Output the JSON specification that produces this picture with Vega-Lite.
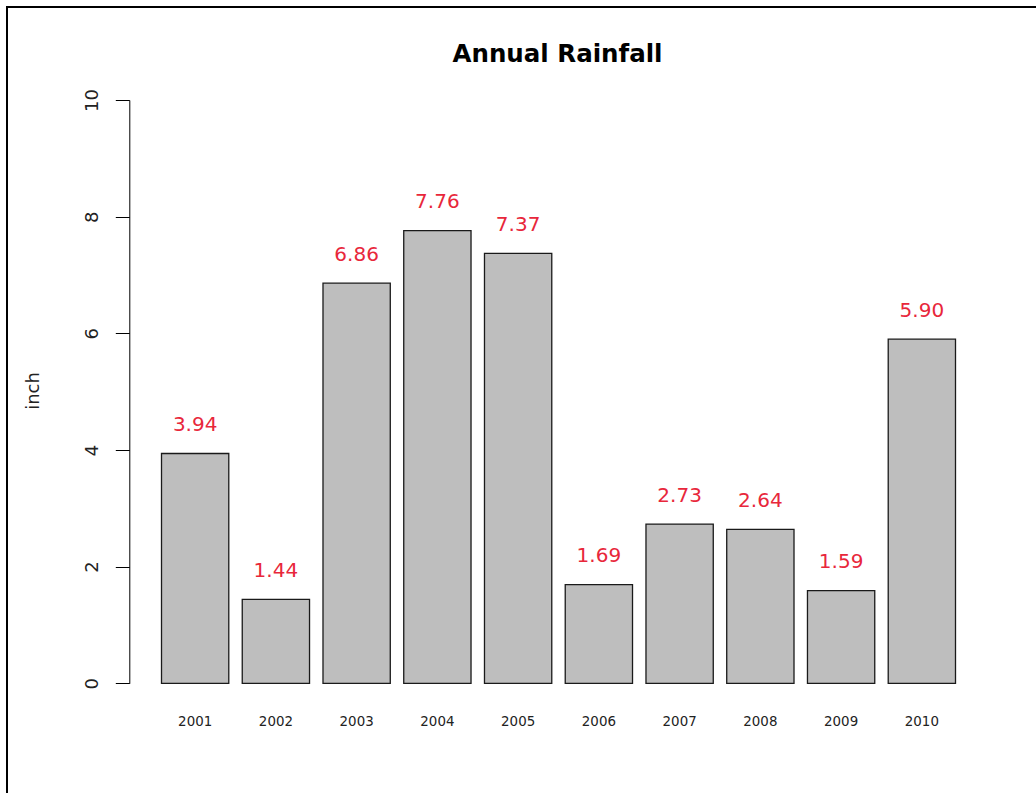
{
  "$schema": "https://vega.github.io/schema/vega-lite/v6.json",
  "autosize": {"type": "none"},
  "padding": {"left": 7, "top": 7, "right": 0, "bottom": 0},
  "width": 1033,
  "height": 790,
  "background": "white",
  "config": {
    "view": {"stroke": "black", "strokeWidth": 2, "fill": "white"},
    "font": "DejaVu Sans"
  },
  "title": {
    "text": "Annual Rainfall",
    "font": "DejaVu Sans",
    "fontSize": 24.5,
    "fontWeight": "bold",
    "color": "black",
    "anchor": "middle",
    "frame": "group",
    "baseline": "alphabetic",
    "offset": -79,
    "dx": 34
  },
  "data": {
    "values": [
      {"year": "2001", "rain": 3.94},
      {"year": "2002", "rain": 1.44},
      {"year": "2003", "rain": 6.86},
      {"year": "2004", "rain": 7.76},
      {"year": "2005", "rain": 7.37},
      {"year": "2006", "rain": 1.69},
      {"year": "2007", "rain": 2.73},
      {"year": "2008", "rain": 2.64},
      {"year": "2009", "rain": 1.59},
      {"year": "2010", "rain": 5.90}
    ]
  },
  "encoding": {
    "x": {
      "field": "year",
      "type": "ordinal",
      "sort": null,
      "scale": {"range": [154.5, 948.5], "paddingInner": 0.1667, "paddingOuter": 0},
      "axis": {
        "orient": "bottom",
        "offset": -114,
        "title": null,
        "domain": false,
        "ticks": false,
        "tickSize": 0,
        "labelAngle": 0,
        "labelPadding": 38.7,
        "labelBaseline": "middle",
        "labelFont": "DejaVu Sans",
        "labelFontSize": 13.4,
        "labelColor": "#222"
      }
    },
    "y": {
      "field": "rain",
      "type": "quantitative",
      "scale": {"domain": [0, 10], "range": [676.3, 93], "nice": false, "zero": true},
      "axis": {
        "orient": "left",
        "offset": -122.3,
        "values": [0, 2, 4, 6, 8, 10],
        "grid": false,
        "domain": true,
        "domainColor": "black",
        "domainWidth": 1,
        "ticks": true,
        "tickColor": "black",
        "tickSize": 14,
        "tickWidth": 1,
        "labelAngle": -90,
        "labelAlign": "center",
        "labelBaseline": "alphabetic",
        "labelPadding": 18,
        "labelFont": "DejaVu Sans",
        "labelFontSize": 18,
        "labelColor": "#222",
        "labelFlush": false,
        "labelOverlap": false,
        "labelBound": false,
        "title": "inch",
        "titleFont": "DejaVu Sans",
        "titleFontSize": 18,
        "titleFontWeight": "normal",
        "titleColor": "#222",
        "titleAngle": -90,
        "titleAlign": "center",
        "titleBaseline": "alphabetic",
        "titleX": -91,
        "titleY": 383.5
      }
    }
  },
  "layer": [
    {
      "mark": {"type": "bar", "fill": "#BEBEBE", "stroke": "#1a1a1a", "strokeWidth": 1.3}
    },
    {
      "mark": {"type": "text", "color": "#e8273b", "font": "DejaVu Sans", "fontSize": 20, "baseline": "middle", "align": "center", "dy": -28.5},
      "encoding": {
        "text": {"field": "rain", "type": "quantitative", "format": ".2f"}
      }
    }
  ]
}
